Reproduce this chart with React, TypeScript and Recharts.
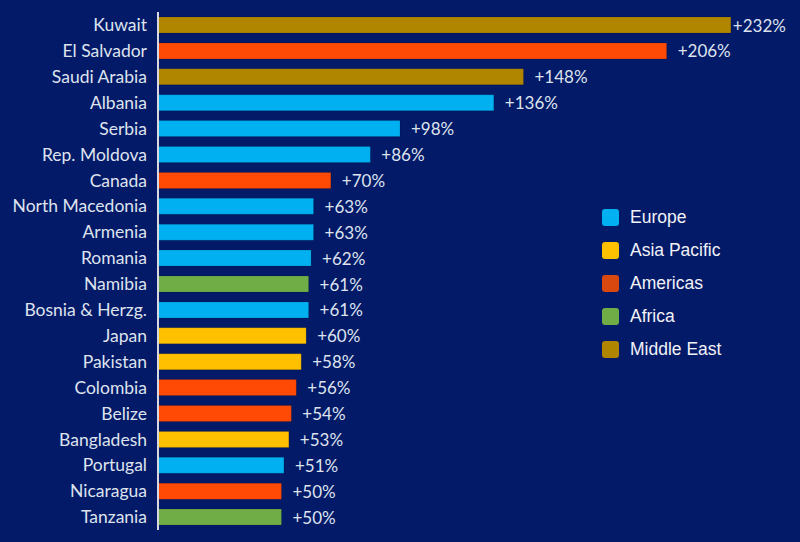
import { BarChart, Bar, XAxis, YAxis, Cell, LabelList } from 'recharts';

const countries = [
  'Kuwait', 'El Salvador', 'Saudi Arabia', 'Albania', 'Serbia', 'Rep. Moldova', 'Canada',
  'North Macedonia', 'Armenia', 'Romania', 'Namibia', 'Bosnia & Herzg.', 'Japan', 'Pakistan',
  'Colombia', 'Belize', 'Bangladesh', 'Portugal', 'Nicaragua', 'Tanzania',
];
const growth = [232, 206, 148, 136, 98, 86, 70, 63, 63, 62, 61, 61, 60, 58, 56, 54, 53, 51, 50, 50];
const regionOf = [
  'Middle East', 'Americas', 'Middle East', 'Europe', 'Europe', 'Europe', 'Americas',
  'Europe', 'Europe', 'Europe', 'Africa', 'Europe', 'Asia Pacific', 'Asia Pacific',
  'Americas', 'Americas', 'Asia Pacific', 'Europe', 'Americas', 'Africa',
];
const regions = ['Europe', 'Asia Pacific', 'Americas', 'Africa', 'Middle East'];

const BAR_COLORS: Record<string, string> = {
  'Europe': '#00b0f0',
  'Asia Pacific': '#ffc000',
  'Americas': '#ff4a06',
  'Africa': '#70ad47',
  'Middle East': '#b08600',
};
const LEGEND_COLORS: Record<string, string> = {
  ...BAR_COLORS,
  'Americas': '#d9480f',
};

const data = countries.map((name, i) => ({ name, value: growth[i], region: regionOf[i] }));

const BG = '#021a68';
const TEXT_FONT = 'Lato, "Open Sans", sans-serif';
const TEXT_COLOR = '#dfe3ee';

function RegionLegend() {
  return (
    <div style={{ position: 'absolute', left: 602, top: 201, fontFamily: '"Liberation Sans", Arial, sans-serif', fontSize: 17.5, color: '#f2f2f7' }}>
      {regions.map(r => (
        <div key={r} style={{ display: 'flex', alignItems: 'center', height: 33 }}>
          <span style={{ width: 17, height: 17, borderRadius: 3, background: LEGEND_COLORS[r], marginRight: 11, display: 'inline-block' }} />
          {r}
        </div>
      ))}
    </div>
  );
}

// value label to the right of each bar; the longest one sits tight against its bar
function ValueLabel(props: any) {
  const { x, y, width, height, value } = props;
  const gap = x + width > 700 ? 2 : 11;
  return (
    <text
      x={x + width + gap}
      y={y + height / 2}
      dominantBaseline="central"
      fill={TEXT_COLOR}
      fontSize={17}
      fontFamily={TEXT_FONT}
    >
      {`+${value}%`}
    </text>
  );
}

export default function App() {
  return (
    <div style={{ position: 'fixed', left: 0, top: 0, width: 800, height: 542, background: BG }}>
      <BarChart
        width={800}
        height={542}
        data={data}
        layout="vertical"
        margin={{ top: 12, right: 0, bottom: 12, left: 0 }}
        barSize={16}
      >
        <XAxis type="number" domain={[0, 260]} hide />
        <YAxis
          type="category"
          dataKey="name"
          width={158}
          tickLine={false}
          axisLine={{ stroke: '#d8d8e0', strokeWidth: 2 }}
          tickMargin={5}
          tick={{ fill: TEXT_COLOR, fontSize: 17.5, fontFamily: TEXT_FONT }}
          interval={0}
        />
        <Bar dataKey="value" isAnimationActive={false} stroke="rgba(0,0,0,0.25)" strokeWidth={0.5}>
          {data.map((d, i) => (
            <Cell key={`c-${i}`} fill={BAR_COLORS[d.region]} />
          ))}
          <LabelList dataKey="value" content={ValueLabel} />
        </Bar>
      </BarChart>
      <RegionLegend />
    </div>
  );
}
